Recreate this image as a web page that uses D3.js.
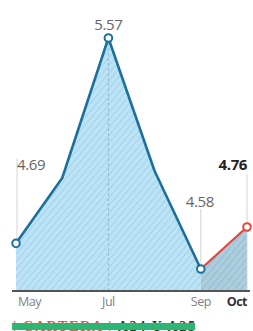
<!DOCTYPE html>
<html lang="es">
<head>
  <meta charset="UTF-8" />
  <title>Cartera</title>
  <style>
    html, body { margin: 0; padding: 0; background: #fff; }
    svg { display: block; font-family: "Open Sans", sans-serif; }
  </style>
</head>
<body>
  <svg id="chart"></svg>

  <script src="https://d3js.org/d3.v7.min.js"></script>
  <script>
    const months = ["May", "Jun", "Jul", "Aug", "Sep", "Oct"];
    const values = [4.69, 4.97, 5.57, 5.00, 4.58, 4.76];
    const tickLabels = ["May", "Jul", "Sep", "Oct"];
    const labelled = ["May", "Jul", "Sep", "Oct"];

    const W = 253, H = 331;
    const svg = d3.select("#chart").attr("width", W).attr("height", H);

    const data = months.map((m, i) => ({ m, v: values[i] }));
    const blue = data.slice(0, 5);
    const red = data.slice(4);

    const x = d3.scalePoint().domain(months).range([16, 247]);
    const y = d3.scaleLinear().domain([4.49, 5.57]).range([290, 38]);

    const defs = svg.append("defs");
    function hatch(id, bg, fg) {
      const p = defs.append("pattern")
        .attr("id", id)
        .attr("patternUnits", "userSpaceOnUse")
        .attr("width", 5).attr("height", 5)
        .attr("patternTransform", "rotate(40)");
      p.append("rect").attr("width", 5).attr("height", 5).attr("fill", bg);
      p.append("line").attr("x1", 0).attr("y1", 0).attr("x2", 0).attr("y2", 5)
        .attr("stroke", fg).attr("stroke-width", 1.3);
    }
    hatch("hb", "#bce3f5", "#92c9e4");
    hatch("hr", "#abcddd", "#8db5ca");

    const area = d3.area().x(d => x(d.m)).y0(y(4.49)).y1(d => y(d.v));
    const line = d3.line().x(d => x(d.m)).y(d => y(d.v));

    svg.append("path").datum(blue).attr("d", area).attr("fill", "url(#hb)");
    svg.append("path").datum(red).attr("d", area).attr("fill", "url(#hr)");

    // dashed guide under the peak
    svg.append("line")
      .attr("x1", x("Jul")).attr("x2", x("Jul"))
      .attr("y1", y(5.57) + 5).attr("y2", y(4.49))
      .attr("stroke", "#86b2c8").attr("stroke-width", 0.8)
      .attr("stroke-dasharray", "3,2");

    // right edge of the Oct area
    svg.append("line")
      .attr("x1", x("Oct")).attr("x2", x("Oct"))
      .attr("y1", y(4.76)).attr("y2", y(4.49))
      .attr("stroke", "#c4d3da").attr("stroke-width", 0.8);

    svg.append("path").datum(blue).attr("d", line)
      .attr("fill", "none").attr("stroke", "#1d6f9c").attr("stroke-width", 2.6)
      .attr("stroke-linejoin", "round");
    svg.append("path").datum(red).attr("d", line)
      .attr("fill", "none").attr("stroke", "#e2453c").attr("stroke-width", 2.2);

    // value labels with thin leaders
    const lab = {
      May: { dx: 1, anchor: "start", base: 170, lx: 1, ly1: 159 },
      Jul: { dx: 0, anchor: "middle", base: 30 },
      Sep: { dx: -1, anchor: "middle", base: 207, lx: 0, ly1: 209 },
      Oct: { dx: 0, anchor: "end", base: 170, lx: 0, ly1: 174 }
    };
    labelled.forEach(m => {
      const d = data.find(e => e.m === m);
      const o = lab[m];
      if (o.lx !== undefined) {
        svg.append("line")
          .attr("x1", x(m) + o.lx).attr("x2", x(m) + o.lx)
          .attr("y1", o.ly1).attr("y2", y(d.v) - 4)
          .attr("stroke", "#c8c8c8").attr("stroke-width", 0.8);
      }
      svg.append("text")
        .attr("x", x(m) + o.dx).attr("y", o.base)
        .attr("text-anchor", o.anchor)
        .attr("font-size", 15)
        .attr("letter-spacing", "-0.4")
        .attr("font-weight", m === "Oct" ? 700 : 400)
        .attr("fill", m === "Oct" ? "#222" : "#666")
        .text(d3.format(".2f")(d.v));
    });

    // points
    svg.selectAll(".dot").data(data.filter(d => labelled.includes(d.m)))
      .join("circle")
      .attr("cx", d => x(d.m)).attr("cy", d => y(d.v)).attr("r", 3.8)
      .attr("fill", "#fff")
      .attr("stroke", d => d.m === "Oct" ? "#e2453c" : "#1d6f9c")
      .attr("stroke-width", 2);

    // x axis
    svg.append("line")
      .attr("x1", 12).attr("x2", 250)
      .attr("y1", y(4.49) + 1).attr("y2", y(4.49) + 1)
      .attr("stroke", "#555").attr("stroke-width", 2);

    const tickPos = { May: ["start", 2], Jul: ["middle", 0], Sep: ["middle", 0], Oct: ["end", 0] };
    svg.selectAll(".tick").data(tickLabels).join("text")
      .attr("x", d => x(d) + tickPos[d][1])
      .attr("y", 306)
      .attr("text-anchor", d => tickPos[d][0])
      .attr("font-size", 12.5)
      .attr("letter-spacing", "-0.5")
      .attr("font-weight", d => d === "Oct" ? 700 : 400)
      .attr("fill", d => d === "Oct" ? "#333" : "#808080")
      .text(d => d);

    // cut-off footer
    const foot = svg.append("text")
      .attr("x", 13).attr("y", 331)
      .attr("font-family", "'Liberation Serif', serif")
      .attr("font-size", 14).attr("font-weight", 700)
      .attr("textLength", 182).attr("lengthAdjust", "spacing");
    foot.append("tspan").attr("fill", "#d9534f").text("| CARTERA |");
    foot.append("tspan").attr("fill", "#333").text(" A24 Y A25");
    svg.append("rect")
      .attr("x", 12).attr("y", 323).attr("width", 183).attr("height", 7)
      .attr("fill", "#2bb673");
  </script>
</body>
</html>
